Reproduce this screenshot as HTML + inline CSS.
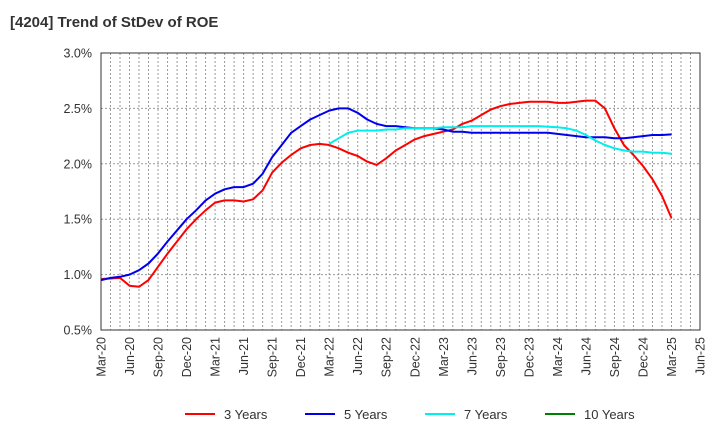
<!DOCTYPE html>
<html><head><meta charset="utf-8"><style>
body{margin:0;background:#fff;font-family:"Liberation Sans",Arial,sans-serif}
svg text{font-family:"Liberation Sans",Arial,sans-serif}
</style></head><body>
<svg id="chart" width="720" height="440" xmlns="http://www.w3.org/2000/svg">
<text x="10" y="27" font-size="15" font-weight="bold" fill="#333">[4204]  Trend of StDev of ROE</text>
<g id="grid"></g>
<g id="axes"></g>
<g id="series"></g>
<g id="legend"></g>
</svg>
<script>
const xTickLabels=["Mar-20","Jun-20","Sep-20","Dec-20","Mar-21","Jun-21","Sep-21","Dec-21","Mar-22","Jun-22","Sep-22","Dec-22","Mar-23","Jun-23","Sep-23","Dec-23","Mar-24","Jun-24","Sep-24","Dec-24","Mar-25","Jun-25"];
const yTicks=[0.5,1.0,1.5,2.0,2.5,3.0];
const s3=[0.96,0.965,0.97,0.90,0.89,0.95,1.07,1.19,1.30,1.41,1.50,1.58,1.65,1.67,1.67,1.66,1.68,1.76,1.92,2.01,2.08,2.14,2.17,2.18,2.17,2.14,2.10,2.07,2.02,1.99,2.05,2.12,2.17,2.22,2.25,2.27,2.29,2.31,2.36,2.39,2.44,2.49,2.52,2.54,2.55,2.56,2.56,2.56,2.55,2.55,2.56,2.57,2.57,2.50,2.32,2.17,2.08,1.98,1.86,1.71,1.51];
const s5=[0.95,0.97,0.98,1.0,1.04,1.10,1.19,1.30,1.40,1.50,1.58,1.67,1.73,1.77,1.79,1.79,1.82,1.91,2.06,2.17,2.28,2.34,2.40,2.44,2.48,2.50,2.50,2.46,2.40,2.36,2.34,2.34,2.33,2.32,2.32,2.32,2.31,2.29,2.29,2.28,2.28,2.28,2.28,2.28,2.28,2.28,2.28,2.28,2.27,2.26,2.25,2.24,2.24,2.24,2.23,2.23,2.24,2.25,2.26,2.26,2.265];
const s7=[null,null,null,null,null,null,null,null,null,null,null,null,null,null,null,null,null,null,null,null,null,null,null,null,2.18,2.23,2.28,2.30,2.30,2.30,2.31,2.31,2.32,2.32,2.32,2.32,2.33,2.33,2.33,2.34,2.34,2.34,2.34,2.34,2.34,2.34,2.34,2.335,2.33,2.32,2.30,2.26,2.21,2.17,2.14,2.12,2.11,2.11,2.10,2.10,2.09];
const s10=[];
const L=101,R=700,T=53,B=330,ymin=0.5,ymax=3.0,months=63;
const xS=i=>L+(R-L)*i/months;
const yS=v=>B-(v-ymin)/(ymax-ymin)*(B-T);
const NS="http://www.w3.org/2000/svg";
function mk(tag,attrs,parent){const e=document.createElementNS(NS,tag);for(const k in attrs)e.setAttribute(k,attrs[k]);parent.appendChild(e);return e;}
const grid=document.getElementById('grid'),axes=document.getElementById('axes'),ser=document.getElementById('series'),leg=document.getElementById('legend');
for(let m=1;m<months;m++){const x=xS(m);const l=mk('line',{x1:x,x2:x,y1:T,y2:B,stroke:'#999','stroke-dasharray':'2,2','stroke-width':1},grid);

}
yTicks.forEach(v=>{const y=yS(v);
if(v>ymin&&v<ymax){const l=mk('line',{x1:L,x2:R,y1:y,y2:y,stroke:'#999','stroke-dasharray':'2,2'},grid);

}
const t=mk('text',{x:92,y:y+4.5,'text-anchor':'end','font-size':12.5,fill:'#333'},axes);t.textContent=v.toFixed(1)+'%';

});
const frame=mk('rect',{x:L,y:T,width:R-L,height:B-T,fill:'none',stroke:'#333','stroke-width':1},axes);


xTickLabels.forEach((s,i)=>{const x=xS(i*3)+4.5;const t=mk('text',{x:x,y:337,transform:`rotate(-90 ${x} 337)`,'text-anchor':'end','font-size':12.5,fill:'#333'},axes);t.textContent=s;

});
function draw(data,color,name){let d='',pen=false;data.forEach((v,i)=>{if(v==null){pen=false;return;}d+=(pen?'L':'M')+xS(i).toFixed(1)+','+yS(v).toFixed(1);pen=true;});
if(!d)return;const p=mk('path',{d:d,fill:'none',stroke:color,'stroke-width':2,'stroke-linejoin':'round'},ser);

}
draw(s3,'#ff0000','line-3-years');
draw(s5,'#0000ee','line-5-years');
draw(s7,'#00eeee','line-7-years');
draw(s10,'#008000','line-10-years');
[['3 Years','#ff0000',185],['5 Years','#0000ee',305],['7 Years','#00eeee',425],['10 Years','#008000',545]].forEach(e=>{
const g=mk('g',{},leg);


mk('line',{x1:e[2],x2:e[2]+30,y1:414,y2:414,stroke:e[1],'stroke-width':2},g);
const t=mk('text',{x:e[2]+39,y:419,'font-size':13,fill:'#333'},g);t.textContent=e[0];});
</script>
</body></html>
